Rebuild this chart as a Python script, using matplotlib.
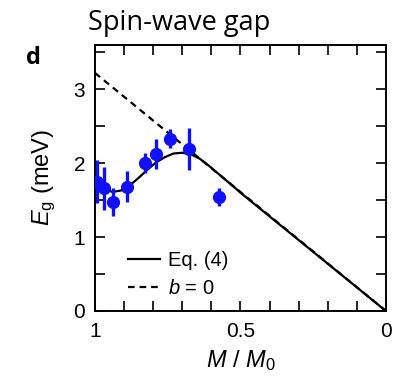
import matplotlib
matplotlib.use('Agg')
import matplotlib.pyplot as plt
from matplotlib.ticker import MultipleLocator

plt.rcParams['font.family'] = ['Liberation Sans', 'DejaVu Sans']
plt.rcParams['mathtext.fontset'] = 'custom'
plt.rcParams['mathtext.rm'] = 'Liberation Sans'
plt.rcParams['mathtext.it'] = 'Liberation Sans:italic'

# Measured gap vs reduced moment
m_data = [0.994, 0.969, 0.937, 0.889, 0.829, 0.790, 0.742, 0.678, 0.573]
e_data = [1.75, 1.66, 1.48, 1.68, 2.00, 2.12, 2.33, 2.19, 1.54]
e_err = [0.29, 0.29, 0.19, 0.21, 0.14, 0.20, 0.13, 0.28, 0.12]

# Eq. (4) curve
m_eq4 = [1.00, 0.97, 0.94, 0.91, 0.88, 0.85, 0.82, 0.79, 0.76, 0.73, 0.70,
         0.67, 0.64, 0.61, 0.58, 0.55, 0.52, 0.50, 0.40, 0.30, 0.20, 0.10, 0.00]
e_eq4 = [1.75, 1.66, 1.61, 1.63, 1.70, 1.80, 1.91, 2.01, 2.08, 2.13, 2.14,
         2.12, 2.06, 1.97, 1.87, 1.77, 1.67, 1.60, 1.28, 0.96, 0.64, 0.32, 0.00]

# b = 0 line
m_b0 = [1.0, 0.0]
e_b0 = [3.22, 0.0]

fig = plt.figure(figsize=(4.11, 3.83), dpi=100)
ax = fig.add_axes([0.231, 0.188, 0.708, 0.695])

ax.plot(m_eq4, e_eq4, color='black', lw=1.6, label='Eq. (4)', zorder=2)
ax.plot(m_b0, e_b0, color='black', lw=1.6, ls=(0, (3, 2.2)), label='$b$ = 0', zorder=2)
ax.errorbar(m_data, e_data, yerr=e_err, fmt='o', color='#1010ff', ms=8.5,
            elinewidth=2.4, capsize=0, zorder=3)

ax.set_xlim(1, 0)
ax.set_ylim(0, 3.6)
ax.xaxis.set_major_locator(MultipleLocator(0.5))
ax.xaxis.set_minor_locator(MultipleLocator(0.1))
ax.yaxis.set_major_locator(MultipleLocator(1))
ax.yaxis.set_minor_locator(MultipleLocator(0.5))
ax.set_xticks([1, 0.5, 0])
ax.set_xticklabels(['1', '0.5', '0'])
ax.tick_params(which='both', direction='in', top=True, right=True,
               length=7, width=1.2, labelsize=15)
ax.tick_params(axis='x', pad=8)
ax.tick_params(axis='y', pad=7)
for s in ax.spines.values():
    s.set_linewidth(1.4)

ax.set_xlabel('$M$ / $M_0$', fontsize=17, labelpad=5)
ax.set_ylabel('$E_\\mathrm{g}$ (meV)', fontsize=17, labelpad=11)

ax.legend(loc='lower left', bbox_to_anchor=(0.052, -0.02), frameon=False,
          fontsize=14.5, handlelength=1.6, handletextpad=0.4, labelspacing=0.45)

fig.text(0.213, 0.922, 'Spin-wave gap', fontsize=19.5, family=['Open Sans', 'DejaVu Sans'])
fig.text(0.063, 0.832, 'd', fontsize=17, fontweight='bold', family=['Open Sans', 'DejaVu Sans'])

fig.savefig('out.png', dpi=100)
